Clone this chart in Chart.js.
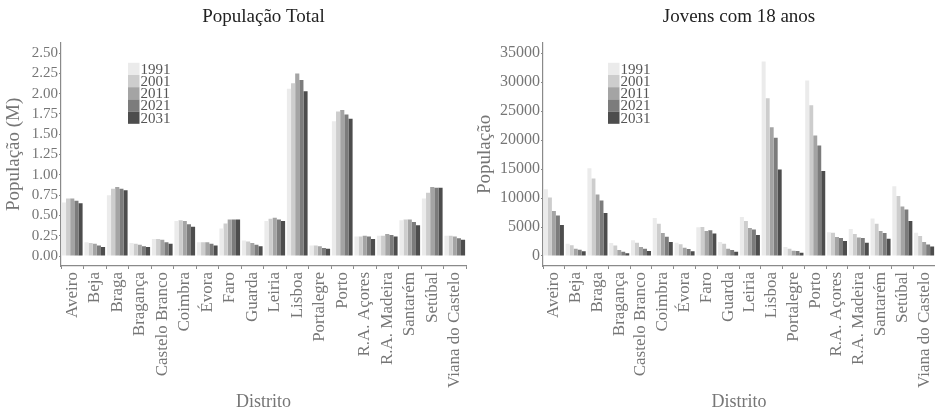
<!DOCTYPE html>
<html>
<head>
<meta charset="utf-8">
<script src="https://cdn.jsdelivr.net/npm/chart.js@4.4.1/dist/chart.umd.min.js"></script>
<style>
  body { margin: 0; background: #fff; }
  .panel { position: absolute; top: 0; height: 414px; }
</style>
</head>
<body>
<div class="panel" style="left:0;width:467px"><canvas id="totalChart"></canvas></div>
<div class="panel" style="left:467px;width:468px"><canvas id="youthChart"></canvas></div>
<script>
const districts = ['Aveiro', 'Beja', 'Braga', 'Bragança', 'Castelo Branco', 'Coimbra', 'Évora', 'Faro',
  'Guarda', 'Leiria', 'Lisboa', 'Portalegre', 'Porto', 'R.A. Açores', 'R.A. Madeira', 'Santarém',
  'Setúbal', 'Viana do Castelo'];
const years = ['1991', '2001', '2011', '2021', '2031'];
const yearColors = ['#ebebeb', '#cdcdcd', '#a4a4a4', '#7c7c7c', '#4d4d4d'];

// total population, millions
const total1991 = [0.66, 0.17, 0.75, 0.16, 0.21, 0.43, 0.17, 0.34, 0.19, 0.43, 2.06, 0.13, 1.66, 0.24, 0.25, 0.44, 0.71, 0.25];
const total2001 = [0.71, 0.16, 0.83, 0.15, 0.21, 0.44, 0.17, 0.40, 0.18, 0.46, 2.13, 0.13, 1.78, 0.24, 0.25, 0.45, 0.78, 0.25];
const total2011 = [0.71, 0.15, 0.85, 0.14, 0.20, 0.43, 0.17, 0.45, 0.16, 0.47, 2.25, 0.12, 1.80, 0.25, 0.27, 0.45, 0.85, 0.24];
const total2021 = [0.68, 0.13, 0.83, 0.12, 0.17, 0.39, 0.15, 0.45, 0.14, 0.45, 2.17, 0.10, 1.745, 0.24, 0.26, 0.42, 0.84, 0.22];
const total2031 = [0.65, 0.11, 0.81, 0.11, 0.15, 0.36, 0.13, 0.45, 0.12, 0.43, 2.03, 0.09, 1.69, 0.21, 0.24, 0.38, 0.84, 0.20];

// young people aged 18
const youth1991 = [11500, 2130, 15140, 2250, 2700, 6560, 2300, 4950, 2420, 6740, 33560, 1550, 30280, 4090, 4660, 6450, 12030, 4000];
const youth2001 = [10080, 1840, 13360, 1790, 2300, 5580, 2020, 5010, 2130, 6050, 27230, 1270, 26020, 4030, 3800, 5580, 10360, 3450];
const youth2011 = [7770, 1270, 10590, 1040, 1550, 3970, 1440, 4320, 1270, 4840, 22220, 920, 20780, 3280, 3170, 4320, 8520, 2400];
const youth2021 = [6970, 1090, 9560, 750, 1270, 3340, 1210, 4430, 1040, 4550, 20380, 860, 19060, 3110, 3110, 3970, 8000, 2000];
const youth2031 = [5350, 810, 7430, 460, 860, 2420, 810, 3860, 750, 3630, 14910, 580, 14680, 2590, 2300, 2990, 6050, 1650];

const serif = '"Liberation Serif", "DejaVu Serif", serif';
const axisGrey = '#8a8a8a';
const textGrey = '#767676';

// small legend drawn inside the plot area, swatches stacked with no gap
const insetLegend = {
  id: 'insetLegend',
  afterDraw(chart, args, opts) {
    const ctx = chart.ctx, area = chart.chartArea;
    const x = area.left + opts.dx, y0 = area.top + opts.dy, h = 12.2;
    ctx.save();
    ctx.font = '15px ' + serif;
    ctx.textBaseline = 'middle';
    chart.data.datasets.forEach((ds, i) => {
      ctx.fillStyle = ds.backgroundColor;
      ctx.fillRect(x, y0 + i * h, 11.5, h);
      ctx.fillStyle = '#555';
      ctx.fillText(ds.label, x + 12.5, y0 + i * h + h / 2 + 1);
    });
    ctx.restore();
  }
};

function makeChart(id, title, yTitle, series, yOpts) {
  const datasets = years.map((yr, i) => ({
    label: yr,
    data: series[i],
    backgroundColor: yearColors[i],
    borderWidth: 0,
    barPercentage: 1,
    categoryPercentage: 0.92
  }));
  return new Chart(document.getElementById(id), {
    type: 'bar',
    data: { labels: districts, datasets: datasets },
    plugins: [insetLegend],
    options: {
      responsive: true,
      maintainAspectRatio: false,
      animation: false,
      layout: { padding: { right: yOpts.padRight } },
      plugins: {
        legend: { display: false },
        tooltip: { enabled: false },
        title: {
          display: true, text: title, color: '#222', fullSize: false,
          font: { family: serif, size: 19, weight: 'normal' },
          padding: { top: 6, bottom: 14 }
        },
        insetLegend: { dx: yOpts.legendDx, dy: 20 }
      },
      scales: {
        x: {
          offset: true,
          grid: { display: true, drawOnChartArea: false, drawTicks: true, tickLength: 3, color: axisGrey },
          border: { display: true, color: axisGrey, width: 1.2 },
          ticks: { color: textGrey, minRotation: 90, maxRotation: 90, padding: 3, autoSkip: false,
            font: { family: serif, size: 17 } },
          title: { display: true, text: 'Distrito', color: textGrey, padding: { top: 0, bottom: 1 },
            font: { family: serif, size: 18 } },
          afterFit(scale) { scale.height = 148; scale.paddingLeft = 0; scale.paddingRight = 0; }
        },
        y: {
          min: yOpts.min, max: yOpts.max,
          grid: { display: true, drawOnChartArea: false, drawTicks: true, tickLength: 2, color: axisGrey },
          border: { display: true, color: axisGrey, width: 1.2 },
          ticks: { color: textGrey, padding: 1, font: { family: serif, size: yOpts.tickSize },
            callback: yOpts.format },
          title: { display: true, text: yTitle, color: textGrey, padding: { top: yOpts.titlePad, bottom: 0 },
            font: { family: serif, size: 19 } },
          afterBuildTicks(scale) { scale.ticks = yOpts.ticks.map(v => ({ value: v })); },
          afterFit(scale) { scale.width = yOpts.width; scale.paddingTop = 0; scale.paddingBottom = 0; }
        }
      }
    }
  });
}

const totalTicks = [0, 0.25, 0.5, 0.75, 1, 1.25, 1.5, 1.75, 2, 2.25, 2.5];
const youthTicks = [0, 5000, 10000, 15000, 20000, 25000, 30000, 35000];

makeChart('totalChart', 'População Total', 'População (M)',
  [total1991, total2001, total2011, total2021, total2031],
  { min: -0.123, max: 2.627, ticks: totalTicks, width: 61, padRight: 1, legendDx: 67, titlePad: 3,
    tickSize: 15, format: v => Number(v).toFixed(2) });

makeChart('youthChart', 'Jovens com 18 anos', 'População',
  [youth1991, youth2001, youth2011, youth2021, youth2031],
  { min: -1727, max: 36780, ticks: youthTicks, width: 76, padRight: 0, legendDx: 65, titlePad: 7,
    tickSize: 16, format: v => String(v) });
</script>
</body>
</html>
